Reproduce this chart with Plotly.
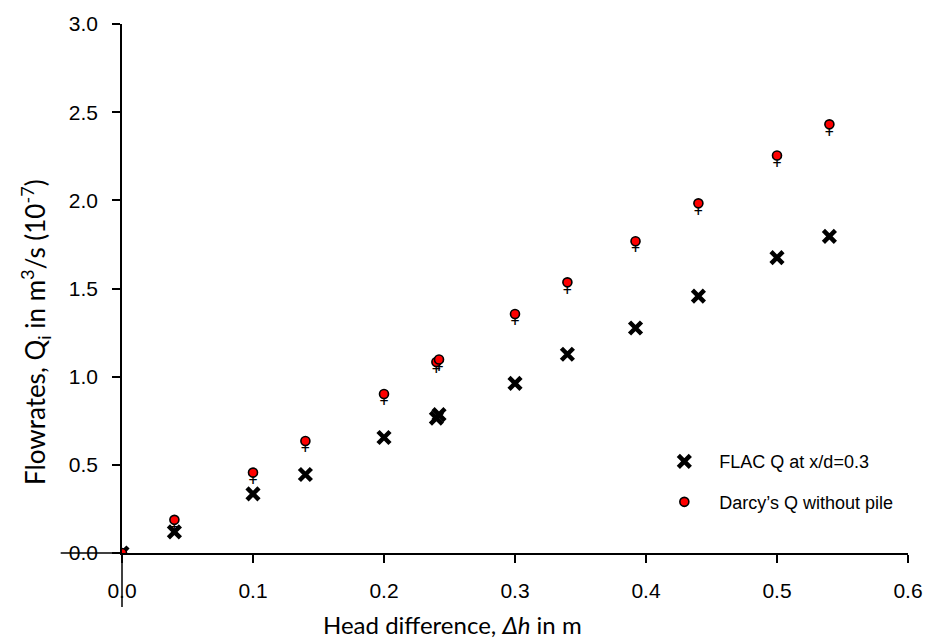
import plotly.graph_objects as go

# Head difference (m) and measured / computed flowrates (x 1e-7 m^3/s)
flac_dh = [0.0, 0.04, 0.10, 0.14, 0.20, 0.24, 0.242, 0.30, 0.34, 0.392, 0.44, 0.50, 0.54]
flac_q = [0.0, 0.12, 0.335, 0.445, 0.655, 0.765, 0.785, 0.962, 1.127, 1.276, 1.457, 1.675, 1.796]

darcy_dh = [0.0, 0.04, 0.10, 0.14, 0.20, 0.24, 0.242, 0.30, 0.34, 0.392, 0.44, 0.50, 0.54]
darcy_q = [0.0, 0.188, 0.456, 0.635, 0.902, 1.083, 1.097, 1.355, 1.535, 1.768, 1.983, 2.254, 2.431]

x_ticks = [0.0, 0.1, 0.2, 0.3, 0.4, 0.5, 0.6]
y_ticks = [0.0, 0.5, 1.0, 1.5, 2.0, 2.5, 3.0]

tick_font = dict(family="Liberation Sans, Arial", size=21, color="#000")
title_font = dict(family="Lato, Open Sans", size=25, color="#000")

fig = go.Figure()

fig.add_trace(go.Scatter(
    x=flac_dh, y=flac_q, mode="markers", name="\u00a0\u00a0\u00a0FLAC Q at x/d=0.3",
    marker=dict(symbol="x-thin", size=12, color="#000", line=dict(color="#000", width=4.5)),
    legendgroup="a",
))
# small cross hanging under each Darcy circle (invisible marker only sets the text offset)
fig.add_trace(go.Scatter(
    x=darcy_dh, y=darcy_q, mode="markers+text", text=["+"] * len(darcy_dh),
    marker=dict(size=2, color="rgba(0,0,0,0)"),
    textposition="bottom center",
    textfont=dict(family="DejaVu Sans", size=12, weight="bold", color="#000"),
    showlegend=False, hoverinfo="skip",
))
fig.add_trace(go.Scatter(
    x=darcy_dh, y=darcy_q, mode="markers", name="\u00a0\u00a0\u00a0Darcy\u2019s Q without pile",
    marker=dict(symbol="circle", size=9, color="#ff0000", line=dict(color="#000", width=1.6)),
    legendgroup="b",
))

axis_common = dict(
    showgrid=False, zeroline=False, showline=True, linecolor="#000", linewidth=1.5,
    ticks="outside", ticklen=8, tickwidth=1.5, tickcolor="#000", tickfont=tick_font,
)

fig.update_layout(
    width=935, height=639,
    margin=dict(l=122, r=22, t=18, b=86),
    paper_bgcolor="#fff", plot_bgcolor="#fff",
    xaxis=dict(range=[0, 0.6], tickvals=x_ticks, ticktext=[f"{v:.1f}" for v in x_ticks],
               ticklabelstandoff=10, **axis_common),
    yaxis=dict(range=[0, 3.0], tickvals=y_ticks, ticktext=[f"{v:.1f}" for v in y_ticks],
               ticklabelstandoff=10, **axis_common),
    legend=dict(x=0.69, y=0.2075, xanchor="left", yanchor="top", bgcolor="rgba(0,0,0,0)",
                font=dict(family="Liberation Sans Narrow, Arial Narrow, Liberation Sans", size=18, color="#000"),
                traceorder="grouped", tracegroupgap=14),
    showlegend=True,
    shapes=[
        # axis lines carried past the origin
        dict(type="line", xref="paper", yref="paper", x0=-0.078, x1=0, y0=0, y1=0,
             line=dict(color="#000", width=1.5)),
        dict(type="line", xref="paper", yref="paper", x0=0, x1=0, y0=0, y1=-0.102,
             line=dict(color="#000", width=1.5)),
    ],
    annotations=[
        dict(text="Head difference, <i>\u0394h</i> in m", xref="paper", yref="paper",
             x=0.421, y=-0.135, xanchor="center", yanchor="middle", showarrow=False,
             font=dict(title_font, size=24)),
        dict(text="Flowrates, Q<sub>i</sub> in m<sup>3</sup>/s (10<sup>-7</sup>)", xref="paper", yref="paper",
             x=-0.11, y=0.417, xanchor="center", yanchor="middle", textangle=-90,
             showarrow=False, font=dict(title_font, size=26)),
    ],
)

fig.write_html("out.html")
